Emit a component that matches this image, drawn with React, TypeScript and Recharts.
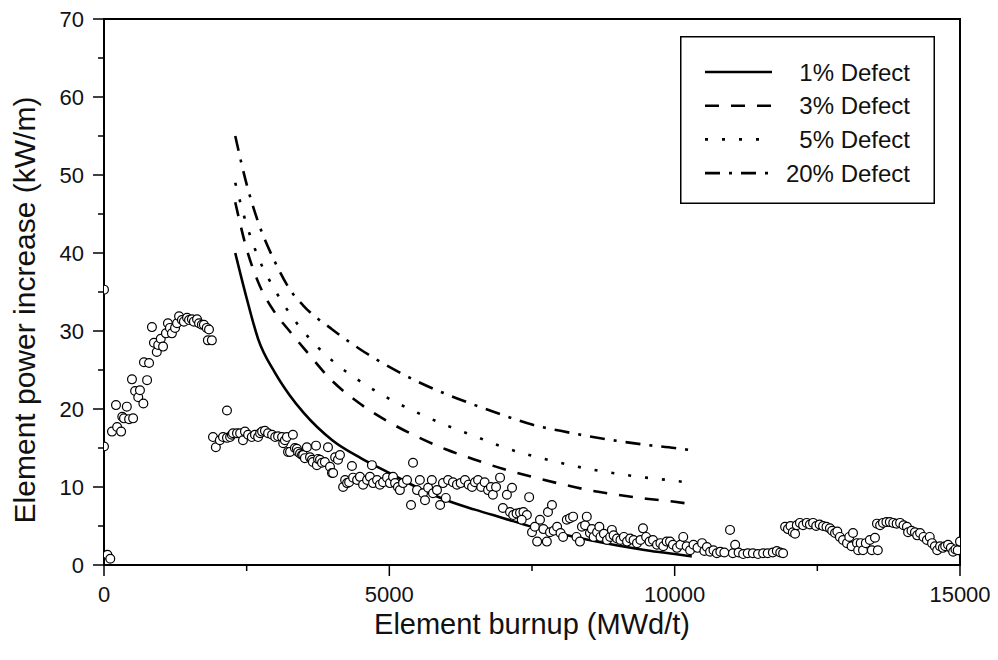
import { ComposedChart, Line, Scatter, XAxis, YAxis, Legend, Label, ReferenceArea } from "recharts";

// measured element power increases (open circles)
const measured: [number, number][] = [
  [0, 15.2], [0, 35.3], [60, 1.3], [110, 0.8],
  [140, 17.1], [210, 20.5], [230, 17.7], [300, 17.1], [320, 19.0], [350, 18.8], [400, 20.3], [440, 18.7],
  [510, 18.8], [490, 23.8], [545, 22.3], [600, 21.5], [630, 22.4], [690, 20.7], [700, 26.0], [755, 23.7],
  [790, 25.9], [840, 30.5], [875, 28.5], [925, 27.3], [950, 28.2], [995, 29.0], [1035, 28.0], [1085, 29.7],
  [1120, 31.0], [1155, 30.4], [1190, 29.7], [1245, 30.4], [1280, 31.0], [1315, 31.9], [1365, 31.4],
  [1400, 31.2], [1455, 31.7], [1490, 31.4], [1540, 31.5], [1575, 31.2], [1630, 31.5], [1665, 31.0],
  [1715, 30.8], [1750, 30.8], [1800, 30.4], [1840, 30.2], [1820, 28.8], [1890, 28.8],
  [2155, 19.8],
  [1910, 16.4], [1960, 15.1], [2030, 16.0], [2085, 16.4], [2155, 16.3], [2210, 16.4], [2240, 16.7],
  [2260, 16.9], [2330, 16.9], [2385, 16.9], [2435, 16.0], [2470, 17.1], [2525, 16.7], [2590, 16.4],
  [2645, 16.7], [2700, 16.4], [2735, 16.9], [2770, 17.1], [2820, 17.2], [2875, 16.9], [2945, 16.7],
  [3000, 16.4], [3050, 16.5], [3120, 16.4], [3140, 15.6], [3170, 16.0], [3205, 16.4], [3225, 14.5],
  [3260, 14.5], [3310, 16.7], [3345, 15.0], [3380, 14.9], [3400, 14.5], [3435, 14.3], [3470, 14.1],
  [3490, 14.1], [3520, 13.7], [3555, 15.1], [3610, 13.8], [3645, 13.5], [3660, 13.2], [3715, 15.3],
  [3730, 12.8], [3750, 13.6], [3785, 13.5], [3820, 13.1], [3870, 13.2], [3925, 15.1], [3960, 12.6],
  [3995, 11.8], [4015, 11.8], [4050, 13.8], [4100, 13.5], [4135, 14.1], [4190, 10.0], [4225, 10.9],
  [4260, 10.5], [4345, 12.7],
  [4295, 10.6], [4365, 11.2], [4435, 10.9], [4485, 11.3], [4540, 10.3], [4610, 10.9], [4660, 11.3],
  [4695, 12.8], [4715, 10.5], [4785, 10.9], [4835, 10.3], [4890, 10.6], [4960, 11.2], [5010, 10.5],
  [5065, 11.3], [5100, 10.5], [5150, 10.0], [5185, 9.6], [5240, 10.5], [5310, 10.9], [5380, 7.7],
  [5415, 13.1], [5485, 9.6], [5535, 10.9], [5590, 9.2], [5625, 8.3], [5680, 9.9], [5745, 10.9],
  [5765, 9.2], [5835, 9.6], [5890, 7.7], [5940, 10.5], [5990, 8.6], [6030, 10.9], [6115, 10.6],
  [6185, 10.3], [6250, 10.5], [6325, 10.9], [6390, 10.3], [6450, 10.0], [6500, 10.6], [6555, 10.9],
  [6610, 10.0], [6670, 10.6], [6730, 9.6], [6780, 10.0], [6815, 9.0], [6870, 10.0], [6940, 11.2],
  [6990, 7.3], [7060, 9.0], [7150, 9.9], [7115, 6.8], [7170, 6.4], [7230, 6.6], [7290, 6.7], [7350, 6.8],
  [7410, 6.4], [7320, 5.8], [7450, 8.7], [7500, 4.2], [7550, 4.9], [7590, 3.0], [7640, 5.8], [7700, 4.6],
  [7760, 3.0], [7780, 6.8], [7850, 7.7], [7815, 4.2], [7880, 4.4], [7940, 4.9], [8000, 4.1], [8045, 3.6],
  [8110, 5.8], [8165, 6.0], [8220, 6.2], [8280, 3.6], [8340, 3.0], [8375, 4.9], [8430, 5.1], [8460, 6.2],
  [8515, 4.1], [8550, 4.6], [8580, 3.6], [8640, 4.2], [8680, 4.9], [8700, 3.6], [8760, 4.0], [8815, 3.2],
  [8870, 3.6], [8900, 4.5], [8930, 3.8], [8990, 3.4], [9050, 3.2], [9110, 3.6], [9165, 3.0], [9220, 3.4],
  [9280, 3.2], [9340, 2.8], [9400, 3.2], [9445, 4.7], [9500, 3.6], [9560, 3.0], [9620, 3.2], [9690, 2.6],
  [9750, 2.8], [9800, 2.4], [9860, 3.0], [9918, 3.0], [9970, 2.6], [10040, 2.2], [10100, 2.6],
  [10150, 3.6], [10210, 2.4], [10270, 1.9], [10330, 2.6], [10400, 2.2], [10480, 2.8], [10520, 1.8],
  [10565, 2.3], [10620, 1.7], [10680, 1.9], [10740, 1.5], [10800, 1.7], [10870, 1.6], [10970, 4.5],
  [11020, 1.5], [11060, 2.6], [11120, 1.6], [11200, 1.4], [11280, 1.5], [11370, 1.5], [11460, 1.4],
  [11550, 1.5], [11630, 1.5], [11720, 1.6], [11790, 1.8], [11850, 1.6], [11900, 1.5],
  [11935, 4.9], [11985, 4.6], [12030, 5.0], [12070, 4.2], [12110, 4.0], [12140, 5.1], [12195, 5.4],
  [12250, 5.1], [12315, 5.4], [12370, 5.2], [12425, 5.4], [12480, 5.0], [12540, 5.2], [12600, 5.0],
  [12660, 4.9], [12720, 4.7], [12760, 4.4], [12810, 4.1], [12850, 4.3], [12895, 3.6], [12950, 3.2],
  [13020, 2.8], [13060, 3.6], [13125, 4.1], [13100, 2.4], [13195, 2.8], [13215, 1.9], [13260, 2.8],
  [13300, 1.9], [13350, 2.8], [13420, 3.2], [13455, 1.9], [13510, 3.5], [13560, 1.9],
  [13545, 5.3], [13600, 5.1], [13650, 5.4], [13710, 5.5], [13770, 5.5], [13830, 5.4], [13890, 5.3],
  [13950, 5.4], [14010, 5.1], [14070, 4.9], [14090, 4.2], [14150, 4.4], [14210, 4.2], [14250, 3.8],
  [14300, 4.1], [14360, 3.6], [14420, 3.2], [14470, 3.6], [14510, 2.8], [14560, 2.4], [14600, 1.9],
  [14650, 2.4], [14700, 2.2], [14740, 2.4], [14790, 2.6], [14840, 2.2], [14880, 1.7], [14920, 2.0],
  [14960, 1.9], [15000, 3.0],
];

// calculated limit curves
const curveBurnup = [2300, 2500, 2700, 3000, 3250, 3500, 4000, 4500, 5000, 5500, 6000, 6500, 7000, 7500, 8000, 8500, 9000, 9500, 10000, 10300];
const defect1 = [40, 34.2, 29, 24.6, 21.8, 19.5, 16.0, 13.7, 11.8, 9.9, 8.3, 7.1, 6.0, 4.9, 4.0, 3.2, 2.5, 1.9, 1.4, 1.1];
const defect3 = [46.5, 40.5, 36.3, 32.3, 30.0, 27.8, 23.6, 20.6, 18.3, 16.4, 14.8, 13.5, 12.3, 11.3, 10.4, 9.6, 9.0, 8.5, 8.1, 7.8];
const defect5 = [49, 43.6, 39.5, 35.2, 32.3, 29.9, 26.2, 23.5, 21.3, 19.5, 17.9, 16.5, 15.1, 14.0, 13.1, 12.3, 11.7, 11.2, 10.8, 10.5];
const defect20 = [55, 48.8, 44, 38.8, 35.4, 33.2, 30.2, 27.6, 25.4, 23.5, 21.9, 20.5, 19.2, 18.0, 17.2, 16.5, 15.9, 15.4, 15.0, 14.7];

const xTicks = [0, 2500, 5000, 7500, 10000, 12500, 15000];
const yTicks = [0, 5, 10, 15, 20, 25, 30, 35, 40, 45, 50, 55, 60, 65, 70];

const series = [
  { name: "1% Defect", values: defect1, dash: undefined },
  { name: "3% Defect", values: defect3, dash: "14 12" },
  { name: "5% Defect", values: defect5, dash: "3 14" },
  { name: "20% Defect", values: defect20, dash: "15 9 3 9" },
];

const FONT = '"Liberation Sans", Arial, Helvetica, sans-serif';

const XTick = ({ x, y, payload }: any) => {
  const v = payload.value;
  const major = v % 5000 === 0;
  return (
    <g>
      <line x1={x} x2={x} y1={y} y2={y + (major ? 11 : 6)} stroke="#000" strokeWidth={1.5} />
      {major && (
        <text x={x} y={y + 37} textAnchor="middle" fontSize={22} fill="#111">{v}</text>
      )}
    </g>
  );
};

const YTick = ({ x, y, payload }: any) => {
  const v = payload.value;
  const major = v % 10 === 0;
  return (
    <g>
      <line x1={x - (major ? 11 : 6)} x2={x} y1={y} y2={y} stroke="#000" strokeWidth={1.5} />
      {major && (
        <text x={x - 20} y={y + 8} textAnchor="end" fontSize={22} fill="#111">{v}</text>
      )}
    </g>
  );
};

const XTitle = ({ viewBox }: any) => (
  <text x={viewBox.x + viewBox.width / 2} y={viewBox.y + 69} textAnchor="middle" fontSize={29} fill="#111">
    Element burnup (MWd/t)
  </text>
);

const YTitle = ({ viewBox }: any) => {
  const cx = viewBox.x + 35;
  const cy = viewBox.y + viewBox.height / 2 + 18;
  return (
    <text x={cx} y={cy} transform={`rotate(-90 ${cx} ${cy})`} textAnchor="middle" fontSize={30} fill="#111">
      Element power increase (kW/m)
    </text>
  );
};

const LegendBox = ({ payload }: any) => {
  const names = (payload || []).map((p: any) => p.value);
  const items = series.filter((s) => names.includes(s.name));
  return (
    <svg width={255} height={168} style={{ display: "block" }}>
      <rect x={0.75} y={0.75} width={253.5} height={166.5} fill="#fff" stroke="#000" strokeWidth={1.5} />
      {items.map((s, i) => {
        const cy = 36 + i * 33.7;
        return (
          <g key={s.name}>
            <line x1={25} x2={92} y1={cy} y2={cy} stroke="#000" strokeWidth={2.6} strokeDasharray={s.dash} />
            <text x={230} y={cy + 8.5} textAnchor="end" fontSize={24} fill="#111">{s.name}</text>
          </g>
        );
      })}
    </svg>
  );
};

const Circle = ({ cx, cy }: any) => (
  <circle cx={cx} cy={cy} r={4.4} fill="#fff" stroke="#000" strokeWidth={1.2} />
);

export default function App() {
  const points = measured.map(([x, y]) => ({ x, y }));
  return (
    <div style={{ position: "absolute", left: 0, top: 0, fontFamily: FONT, background: "#fff" }}>
      <ComposedChart width={998} height={660} margin={{ top: 19, right: 38, bottom: 0, left: 0 }}>
        <XAxis
          type="number"
          dataKey="x"
          domain={[0, 15000]}
          ticks={xTicks}
          interval={0}
          allowDataOverflow
          height={95}
          tickSize={0}
          tickMargin={0}
          tickLine={false}
          axisLine={{ stroke: "#000", strokeWidth: 2 }}
          tick={<XTick />}
        >
          <Label content={<XTitle />} />
        </XAxis>
        <YAxis
          type="number"
          domain={[0, 70]}
          ticks={yTicks}
          interval={0}
          allowDataOverflow
          width={104}
          tickSize={0}
          tickMargin={0}
          tickLine={false}
          axisLine={{ stroke: "#000", strokeWidth: 2 }}
          tick={<YTick />}
        >
          <Label content={<YTitle />} />
        </YAxis>
        <ReferenceArea x1={0} x2={15000} y1={0} y2={70} fill="none" stroke="#000" strokeWidth={2} ifOverflow="visible" />
        <Scatter data={points} dataKey="y" shape={<Circle />} legendType="none" isAnimationActive={false} />
        {series.map((s) => (
          <Line
            key={s.name}
            name={s.name}
            data={curveBurnup.map((x, i) => ({ x, y: s.values[i] }))}
            dataKey="y"
            type="monotone"
            stroke="#000"
            strokeWidth={2.6}
            strokeDasharray={s.dash}
            dot={false}
            activeDot={false}
            isAnimationActive={false}
          />
        ))}
        <Legend
          verticalAlign="middle"
          align="center"
          content={<LegendBox />}
          wrapperStyle={{ left: 680, top: 36, width: 255, height: 168 }}
        />
      </ComposedChart>
    </div>
  );
}
